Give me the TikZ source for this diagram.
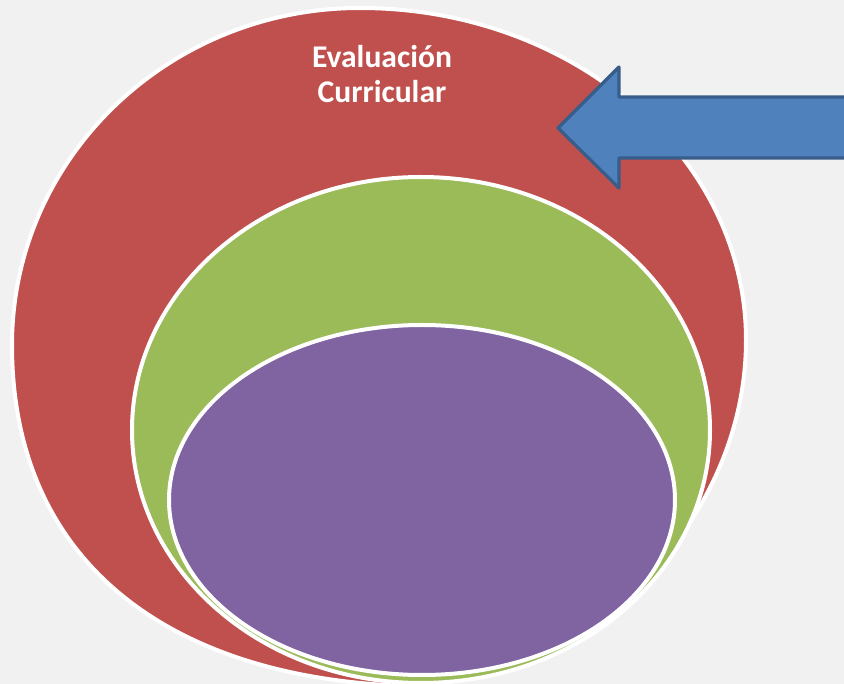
\documentclass[tikz,border=0pt]{standalone}
\usepackage{fontspec}
\setmainfont{Carlito}
\definecolor{bg}{HTML}{F1F1F1}
\definecolor{redc}{HTML}{C0504D}
\definecolor{greenc}{HTML}{9BBB59}
\definecolor{purplec}{HTML}{8064A2}
\definecolor{bluec}{HTML}{4F81BD}
\definecolor{blueline}{HTML}{385D8A}
\tikzset{
  ring/.style={draw=white, line width=3pt},
  arrowshape/.style={fill=bluec, draw=blueline, line width=2.4pt, line join=round},
  label/.style={text=white, font=\bfseries\fontsize{23.7}{26.5}\selectfont, align=center}
}
\begin{document}
\begin{tikzpicture}[x=0.75pt,y=-0.75pt]
\useasboundingbox (0,0) rectangle (844,684);
\fill[bg] (0,0) rectangle (844,684);
\begin{scope}
\clip (0,0) rectangle (844,684);
% outer red shape
\path[fill=redc, ring] (360,8)
  .. controls (167.8,8) and (12,158.9) .. (12,345)
  .. controls (12,570) and (180,680) .. (410,686)
  .. controls (590,678) and (746,520) .. (746,340)
  .. controls (746,156.6) and (573.2,8) .. cycle;
\path[fill=greenc, ring] (421,430) ellipse [x radius=289, y radius=253];
\path[fill=purplec, ring] (422,500) ellipse [x radius=253, y radius=175];
\path[arrowshape] (558,128) -- (619,67) -- (619,97) -- (860,97) -- (860,158) -- (619,158) -- (619,188) -- cycle;
\end{scope}
\node[label] (title) at (382,74) {Evaluación\\Curricular};
\end{tikzpicture}
\end{document}
